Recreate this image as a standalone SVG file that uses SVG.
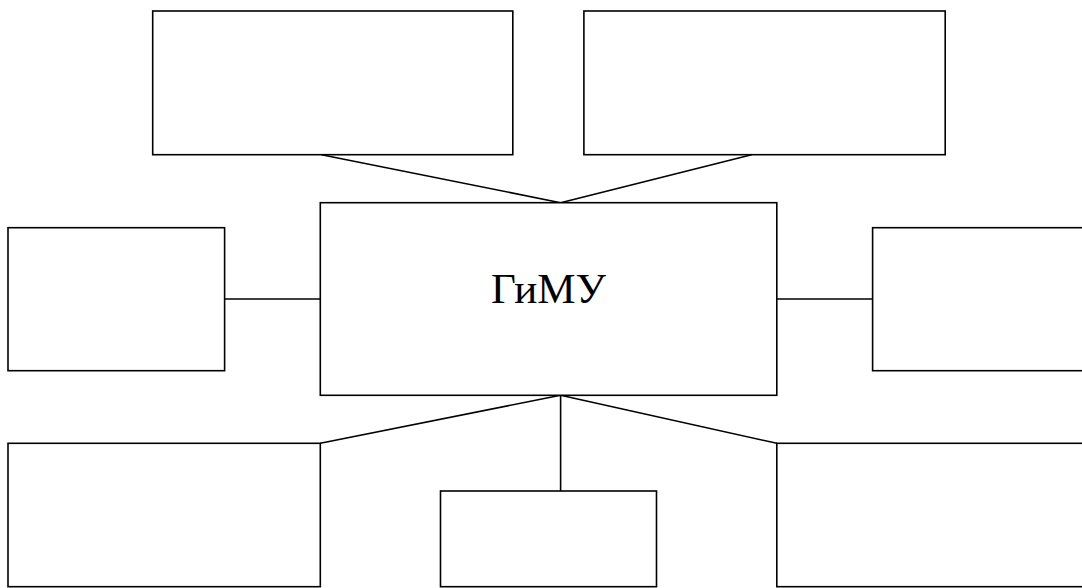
<svg xmlns="http://www.w3.org/2000/svg" width="1082" height="588" viewBox="0 0 1082 588">
<style>
.box{fill:#fff;stroke:#000;stroke-width:1.6}
.conn line{stroke:#000;stroke-width:1.6}
.lbl{font-family:"Liberation Serif","Times New Roman",serif;font-size:43px;fill:#000}
</style>
<rect width="1082" height="588" fill="#fff"/>
<g id="connectors" class="conn">
<line x1="321.5" y1="154.7" x2="560.6" y2="202.7"/>
<line x1="751.6" y1="154.7" x2="560.6" y2="202.7"/>
<line x1="224.6" y1="299" x2="320.3" y2="299"/>
<line x1="776.8" y1="299" x2="872.6" y2="299"/>
<line x1="560.6" y1="395.3" x2="320.3" y2="443.3"/>
<line x1="560.6" y1="395.3" x2="560.6" y2="491"/>
<line x1="560.6" y1="395.3" x2="776.8" y2="443.3"/>
</g>
<g id="node-top-left"><rect class="box" x="152.7" y="11" width="360.1" height="143.7"/></g>
<g id="node-top-right"><rect class="box" x="583.9" y="11" width="361.3" height="143.7"/></g>
<g id="node-center"><rect class="box" x="320.3" y="202.7" width="456.5" height="192.6"/>
<text class="lbl" x="548.5" y="303" text-anchor="middle">ГиМУ</text></g>
<g id="node-left"><rect class="box" x="8" y="227.7" width="216.6" height="143"/></g>
<g id="node-right"><rect class="box" x="872.6" y="227.7" width="220" height="143"/></g>
<g id="node-bottom-left"><rect class="box" x="8" y="443.3" width="312.3" height="143.4"/></g>
<g id="node-bottom-mid"><rect class="box" x="440.5" y="491" width="216" height="95.7"/></g>
<g id="node-bottom-right"><rect class="box" x="776.8" y="443.3" width="320" height="143.4"/></g>
</svg>
